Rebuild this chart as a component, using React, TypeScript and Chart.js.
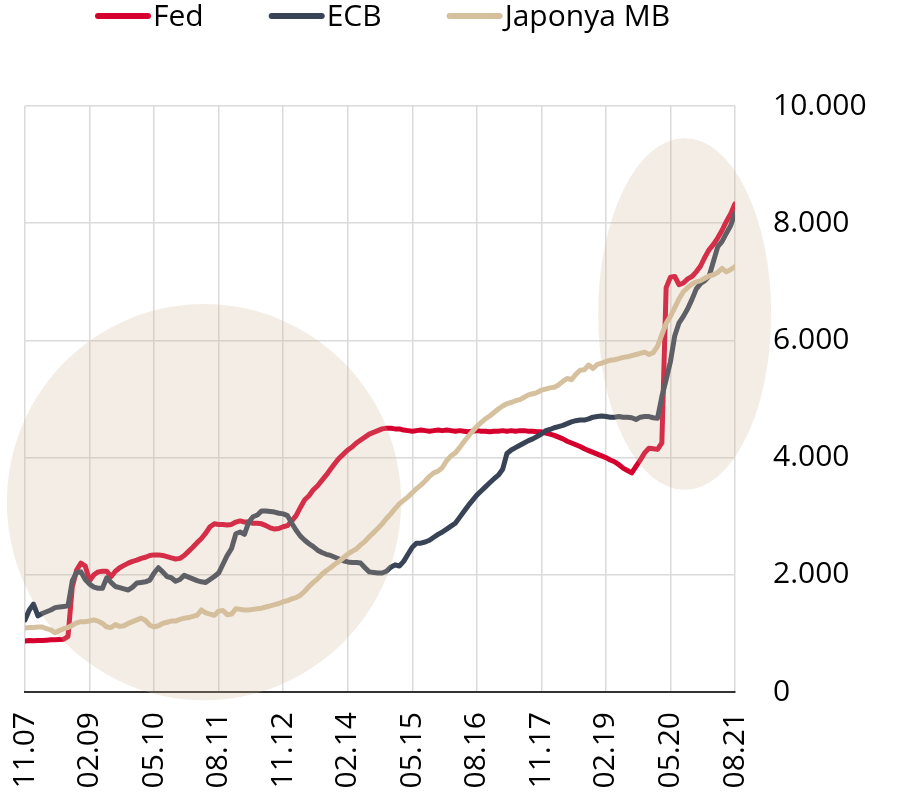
import React, { useEffect, useRef } from "react";
import { Chart, registerables } from "chart.js";

Chart.register(...registerables);

// Monthly observations, Nov 2007 (index 0) .. Aug 2021 (index 165)
const fed: number[] = [
  870, 880, 875, 880, 880, 885, 890, 890, 895, 900,
  950, 1800, 2080, 2200, 2150, 1900, 2000, 2050, 2060, 2060,
  1970, 2060, 2120, 2160, 2200, 2230, 2250, 2280, 2300, 2330,
  2340, 2340, 2330, 2310, 2290, 2270, 2280, 2330, 2400, 2470,
  2550, 2620, 2710, 2820, 2870, 2860, 2860, 2850, 2860, 2900,
  2920, 2900, 2900, 2880, 2880, 2870, 2840, 2800, 2780, 2790,
  2820, 2840, 2920, 3010, 3150, 3280, 3350, 3450, 3520, 3610,
  3700, 3800, 3900, 3990, 4060, 4130, 4180, 4250, 4300, 4350,
  4400, 4430, 4460, 4490, 4500, 4500, 4490, 4490, 4470, 4460,
  4450, 4460, 4470, 4460, 4450, 4460, 4470, 4460, 4470, 4460,
  4450, 4460, 4450, 4440, 4450, 4460, 4450, 4450, 4440, 4450,
  4450, 4460, 4450, 4460, 4450, 4460, 4460, 4450, 4450, 4440,
  4440, 4420, 4400, 4380, 4350, 4320, 4280, 4250, 4220, 4190,
  4150, 4120, 4090, 4060, 4030, 4000, 3960, 3930, 3880, 3820,
  3780, 3740, 3850, 3960, 4080, 4160, 4150, 4140, 4250, 6900,
  7080, 7090, 6950, 6980, 7050, 7090, 7170, 7270, 7420, 7550,
  7640, 7750, 7880, 8030, 8160, 8330,
];

const ecb: number[] = [
  1230, 1400, 1500, 1300, 1340, 1370, 1400, 1440, 1450, 1460,
  1470, 1900, 2040, 2050, 1920, 1840, 1790, 1770, 1770, 1950,
  1870, 1800, 1780, 1760, 1740, 1790, 1860, 1870, 1880, 1910,
  2030, 2120, 2050, 1970, 1950, 1890, 1920, 1990, 1960, 1930,
  1900, 1880, 1870, 1920, 1970, 2030, 2180, 2330, 2450, 2700,
  2730, 2690, 2900, 2990, 3020, 3090, 3090, 3080, 3070, 3050,
  3040, 3010, 2880, 2760, 2660, 2590, 2530, 2480, 2420, 2380,
  2350, 2330, 2300, 2270, 2240, 2220, 2210, 2210, 2200, 2120,
  2050, 2040, 2030, 2030, 2060, 2130, 2170, 2150, 2230, 2350,
  2470, 2540, 2540, 2560, 2590, 2640, 2690, 2730, 2780, 2830,
  2880, 2980, 3080, 3180, 3270, 3360, 3430, 3500, 3570, 3640,
  3700, 3800, 4070, 4130, 4170, 4210, 4250, 4290, 4320, 4360,
  4400, 4460, 4480, 4510, 4530, 4550, 4580, 4610, 4630, 4640,
  4640, 4660, 4690, 4700, 4710, 4700, 4690, 4690, 4700, 4690,
  4690, 4680, 4650, 4690, 4700, 4700, 4680, 4670, 5040, 5330,
  5640, 6080, 6300, 6410, 6540, 6700, 6880, 6970, 7020, 7100,
  7350, 7600, 7690, 7830, 7960, 8170,
];

const boj: number[] = [
  1090, 1100, 1100, 1110, 1110, 1080, 1060, 1010, 1050, 1080,
  1100, 1140, 1180, 1200, 1200, 1210, 1230, 1210, 1170, 1110,
  1100, 1150, 1120, 1130, 1170, 1200, 1230, 1260, 1220, 1140,
  1110, 1130, 1170, 1190, 1210, 1210, 1240, 1260, 1270, 1290,
  1310, 1400, 1350, 1330, 1310, 1380, 1390, 1320, 1330, 1420,
  1410, 1400, 1400, 1410, 1420, 1430, 1450, 1470, 1490, 1510,
  1540, 1560, 1590, 1610, 1650, 1720, 1800, 1870, 1930, 2010,
  2070, 2120, 2180, 2230, 2290, 2350, 2400, 2440, 2510, 2570,
  2650, 2720, 2790, 2870, 2960, 3040, 3130, 3210, 3270, 3330,
  3400, 3470, 3530, 3600, 3680, 3740, 3770, 3830, 3950, 4030,
  4080, 4170, 4270, 4360, 4450, 4530, 4600, 4660, 4710, 4770,
  4830, 4880, 4920, 4940, 4970, 4990, 5030, 5070, 5090, 5110,
  5150, 5170, 5190, 5200, 5240, 5300, 5350, 5330, 5420, 5490,
  5500, 5580, 5520, 5590, 5610, 5640, 5660, 5670, 5690, 5710,
  5720, 5740, 5760, 5780, 5800, 5760, 5790, 5900, 6100, 6290,
  6410, 6560, 6710, 6830, 6900, 6960, 7000, 7020, 7060, 7100,
  7120, 7160, 7230, 7170, 7210, 7260,
];

const tickLabels: string[] = [
  "11.07", "02.09", "05.10", "08.11", "11.12", "02.14",
  "05.15", "08.16", "11.17", "02.19", "05.20", "08.21",
];
const tickStep = 15; // months between labels

const seriesNames = ["Fed", "ECB", "Japonya MB"];
const seriesColors = ["#d6002f", "#394356", "#d6c19e"];

// highlight ellipses in data units: [centerMonth, centerValue, radiusMonths, radiusValue]
const highlights: number[][] = [
  [41.6, 3240, 45.8, 3380],
  [153.3, 6450, 20.1, 3000],
];

const FONT = "'Open Sans', 'DejaVu Sans', sans-serif";

const fmt = (v: number) => {
  const s = Math.round(v).toString();
  return s.replace(/\B(?=(\d{3})+(?!\d))/g, ".");
};

const highlightPlugin = {
  id: "highlights",
  afterDatasetsDraw(chart: any) {
    const { ctx, scales } = chart;
    const xs = scales.x;
    const ys = scales.y;
    ctx.save();
    ctx.fillStyle = "rgba(207,183,151,0.25)";
    highlights.forEach(([cx, cy, rx, ry]) => {
      const px = xs.getPixelForValue(cx);
      const py = ys.getPixelForValue(cy);
      const prx = Math.abs(xs.getPixelForValue(cx + rx) - px);
      const pry = Math.abs(ys.getPixelForValue(cy + ry) - py);
      ctx.beginPath();
      ctx.ellipse(px, py, prx, pry, 0, 0, Math.PI * 2);
      ctx.fill();
    });
    ctx.restore();
  },
};

const legendPlugin = {
  id: "customLegend",
  afterDraw(chart: any) {
    const { ctx } = chart;
    ctx.save();
    ctx.font = `30px ${FONT}`;
    ctx.textBaseline = "middle";
    let x = 95;
    const y = 16;
    seriesNames.forEach((name, i) => {
      ctx.strokeStyle = seriesColors[i];
      ctx.lineWidth = 6;
      ctx.lineCap = "round";
      ctx.beginPath();
      ctx.moveTo(x + 3, y);
      ctx.lineTo(x + 53, y);
      ctx.stroke();
      x += 58;
      ctx.fillStyle = "#000";
      ctx.fillText(name, x, y + 1);
      x += ctx.measureText(name).width + 65;
    });
    ctx.restore();
  },
};

export default function App() {
  const ref = useRef<HTMLCanvasElement | null>(null);

  useEffect(() => {
    if (!ref.current) return;
    const mk = (arr: number[]) => arr.map((v, i) => ({ x: i, y: v }));
    const data = [fed, ecb, boj];
    const chart = new Chart(ref.current, {
      type: "line",
      data: {
        datasets: data.map((arr, i) => ({
          label: seriesNames[i],
          data: mk(arr),
          borderColor: seriesColors[i],
          backgroundColor: seriesColors[i],
          borderWidth: 5,
          pointRadius: 0,
          tension: 0,
          borderJoinStyle: "round" as const,
          borderCapStyle: "round" as const,
          order: 3 - i,
        })),
      },
      options: {
        responsive: false,
        animation: false,
        events: [],
        layout: { padding: { top: 106, left: 25, right: 0, bottom: 0 } },
        plugins: {
          legend: { display: false },
          tooltip: { enabled: false },
        },
        scales: {
          x: {
            type: "linear",
            min: 0,
            max: (tickLabels.length - 1) * tickStep,
            afterFit: (s: any) => {
              s.height = 109;
            },
            ticks: {
              stepSize: tickStep,
              autoSkip: false,
              minRotation: 90,
              maxRotation: 90,
              padding: 20,
              color: "#000",
              font: { family: FONT, size: 30 },
              callback: (v: any) => {
                const idx = Math.round(Number(v) / tickStep);
                return tickLabels[idx] ?? null;
              },
            },
            grid: {
              color: "#dadada",
              lineWidth: 1.5,
              drawTicks: false,
            },
            border: { display: true, color: "#333", width: 2 },
          },
          y: {
            position: "right",
            min: 0,
            max: 10000,
            afterFit: (s: any) => {
              s.width = 172;
            },
            ticks: {
              stepSize: 2000,
              padding: 38,
              color: "#000",
              font: { family: FONT, size: 30 },
              callback: (v: any) => fmt(Number(v)),
            },
            grid: {
              color: "#dadada",
              lineWidth: 1.5,
              drawTicks: false,
            },
            border: { display: false },
          },
        },
      },
      plugins: [highlightPlugin, legendPlugin],
    });
    return () => chart.destroy();
  }, []);

  return (
    <div style={{ position: "absolute", left: 0, top: 0, width: 907, height: 801, background: "#fff" }}>
      <canvas ref={ref} width={907} height={801} />
    </div>
  );
}
